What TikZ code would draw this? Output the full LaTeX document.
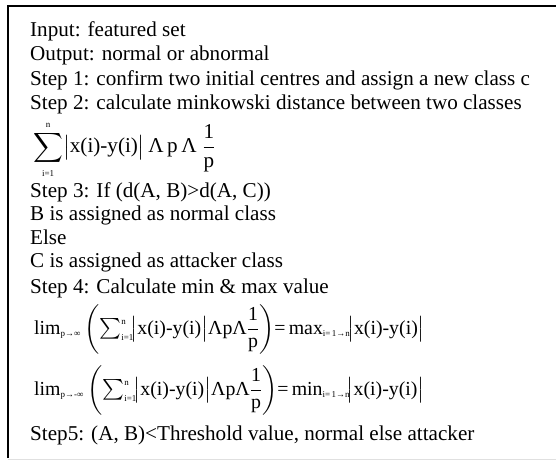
\documentclass[tikz,border=0pt]{standalone}
\usepackage{fix-cm}
\usepackage{amsmath}
\usepackage{fontspec}
\setmainfont{Liberation Serif}

% petits indices
\newcommand{\sm}[1]{\mbox{\fontsize{9}{9}\selectfont #1}}

\begin{document}
\begin{tikzpicture}[x=1bp, y=-1bp,
    txt/.style={anchor=base west, inner sep=0pt, font=\fontsize{21.2}{24}\selectfont},
    frm/.style={txt, font=\fontsize{19.9}{23}\selectfont}]
    \useasboundingbox (0,0) rectangle (556,461);

    % Cadre
    \draw[line width=2bp] (8,458) -- (8,6) -- (556,6);
    \draw[black!12, line width=1.5bp] (8,459.5) -- (556,459.5);

    % Lignes
    \node[txt] (inp) at (30,36.5) {Input: featured set};
    \node[txt] (outp) at (30,61) {Output: normal or abnormal};
    \node[txt] (s1) at (30,85.5) {Step 1: confirm two initial centres and assign a new class c};
    \node[txt] (s2) at (30,110) {Step 2: calculate minkowski distance between two classes};
    \node[txt] (dist) at (33,153) {$\displaystyle\sum_{\sm{i=1}}^{\sm{n}}\bigl|\text{x(i)-y(i)}\bigr|\,\text{Λ\,p\,Λ}\;\frac{\text{1}}{\text{p}}$};
    \node[txt] (s3) at (30,198) {Step 3: If (d(A, B)>d(A, C))};
    \node[txt] (bnorm) at (30,221) {B is assigned as normal class};
    \node[txt] (els) at (30,244.5) {Else};
    \node[txt] (catt) at (30,268) {C is assigned as attacker class};
    \node[txt] (s4) at (30,293) {Step 4: Calculate min \& max value};
    \node[frm] (lmax) at (34,334) {$\text{lim}_{\sm{p→∞}}\left(\textstyle\sum_{\sm{i=1}}^{\sm{n}}\!\bigl|\text{x(i)-y(i)}\bigr|\text{ΛpΛ}\dfrac{\text{1}}{\text{p}}\right)\!\text{=\,max}_{\sm{i=\,1→n}}\!\bigl|\text{x(i)-y(i)}\bigr|$};
    \node[frm] (lmin) at (34,395) {$\text{lim}_{\sm{p→-∞}}\left(\textstyle\sum_{\sm{i=1}}^{\sm{n}}\!\bigl|\text{x(i)-y(i)}\bigr|\text{ΛpΛ}\dfrac{\text{1}}{\text{p}}\right)\!\text{=\,min}_{\sm{i=\,1→n}}\!\bigl|\text{x(i)-y(i)}\bigr|$};
    \node[txt] (s5) at (30,440) {Step5: (A, B)<Threshold value, normal else attacker};
\end{tikzpicture}
\end{document}
